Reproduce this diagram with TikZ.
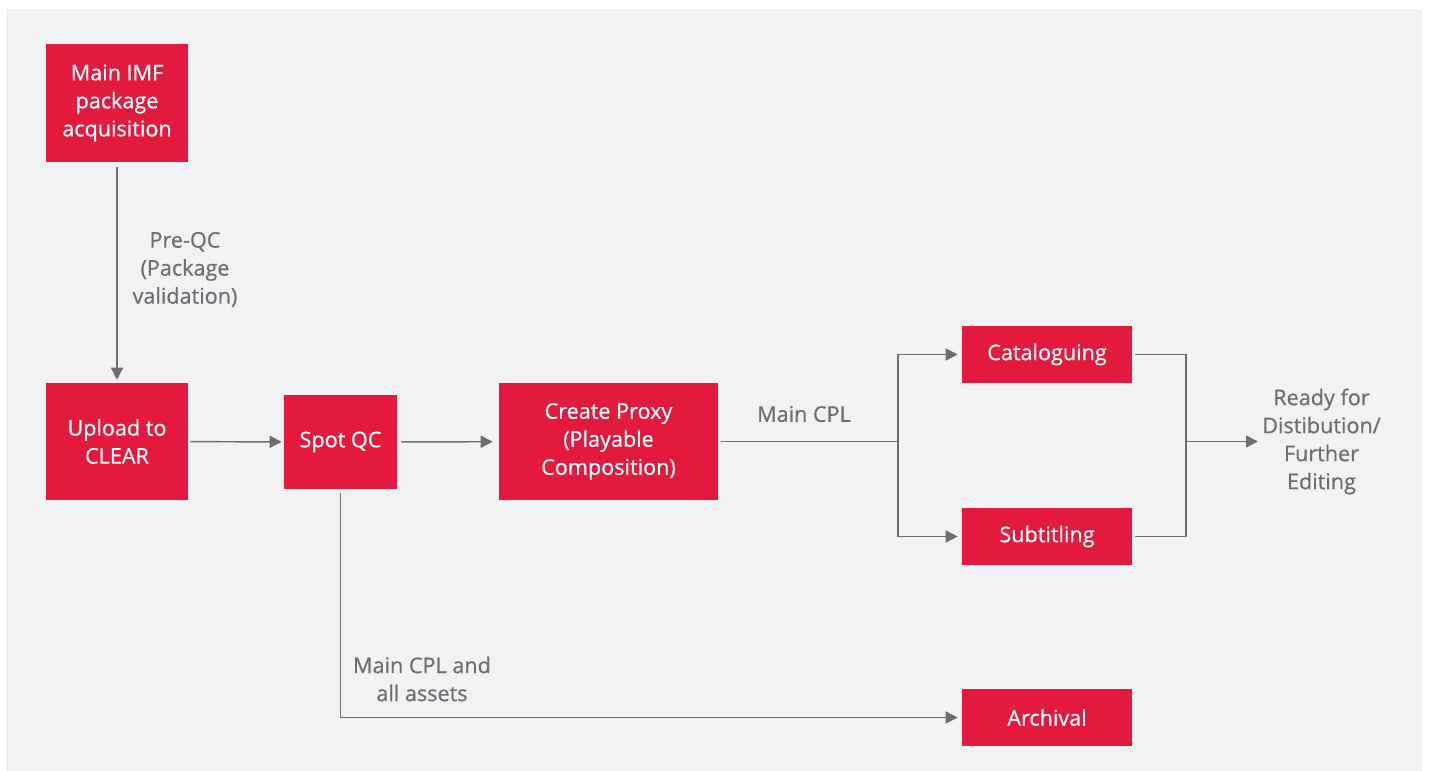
\documentclass[tikz,border=0pt]{standalone}
\usepackage{fontspec}
\setmainfont{Open Sans}[FakeBold=0.6]
\usetikzlibrary{arrows.meta}
\definecolor{bgcol}{HTML}{F1F2F4}
\definecolor{boxred}{HTML}{E31A3E}
\definecolor{linecol}{HTML}{6D6E71}
\tikzset{
  box/.style={fill=boxred, text=white, inner sep=0pt, align=center,
    font=\fontsize{16.2}{21}\selectfont},
  lbl/.style={text=linecol, align=center, inner sep=1pt,
    font=\fontsize{16.2}{21}\selectfont},
  conn/.style={draw=linecol, line width=1.1pt},
  arr/.style={conn, -{Triangle[length=9pt,width=9pt]}},
}
\begin{document}
\begin{tikzpicture}[x=0.75pt,y=-0.75pt]
\useasboundingbox (0,0) rectangle (1429,771);
\fill[white] (0,0) rectangle (1429,771);
\fill[bgcol] (6,9) rectangle (1422,771);

\node[box, minimum width=142*0.75pt, minimum height=118*0.75pt] (imf) at (117,103) {Main IMF\\package\\acquisition};
\node[box, minimum width=142*0.75pt, minimum height=117*0.75pt] (up) at (117,441.5) {Upload to\\CLEAR};
\node[box, minimum width=113*0.75pt, minimum height=94*0.75pt] (spot) at (340.5,442) {Spot QC};
\node[box, minimum width=219*0.75pt, minimum height=117*0.75pt] (proxy) at (608.5,441.5) {Create Proxy\\(Playable\\Composition)};
\node[box, minimum width=170*0.75pt, minimum height=57*0.75pt] (cat) at (1047,354.5) {Cataloguing};
\node[box, minimum width=170*0.75pt, minimum height=57*0.75pt] (sub) at (1047,536.5) {Subtitling};
\node[box, minimum width=170*0.75pt, minimum height=57*0.75pt] (arch) at (1047,717.5) {Archival};

\node[lbl] (preqc) at (185,269.5) {Pre-QC\\(Package\\validation)};
\node[lbl] (mcpl) at (804,414) {Main CPL};
\node[lbl] (mcpla) at (422,679) {Main CPL and\\all assets};
\node[lbl, anchor=west, inner sep=3pt] (ready) at (1258,441.5) {Ready for\\Distibution/\\Further\\Editing};

\coordinate (j1) at (898,441.5);
\coordinate (j2) at (1186,441.5);

\draw[arr, shorten <=3.75pt, shorten >=2.25pt] (imf) -- (up);
\draw[arr, shorten <=1.5pt, shorten >=1.5pt] (up) -- (spot);
\draw[arr, shorten <=3pt, shorten >=4.5pt] (spot) -- (proxy);
\draw[conn, shorten <=2.25pt] (proxy.east) -- (j1);
\draw[arr, shorten >=3pt] (j1) |- (cat.west);
\draw[arr, shorten >=3pt] (j1) |- (sub.west);
\draw[conn, shorten <=2.25pt, shorten >=2.25pt] (cat.east) -| (j2) |- (sub.east);
\draw[arr] (j2) -- (ready.west);
\draw[arr, shorten <=3pt, shorten >=3pt] (spot.south) |- (arch.west);
\end{tikzpicture}
\end{document}
